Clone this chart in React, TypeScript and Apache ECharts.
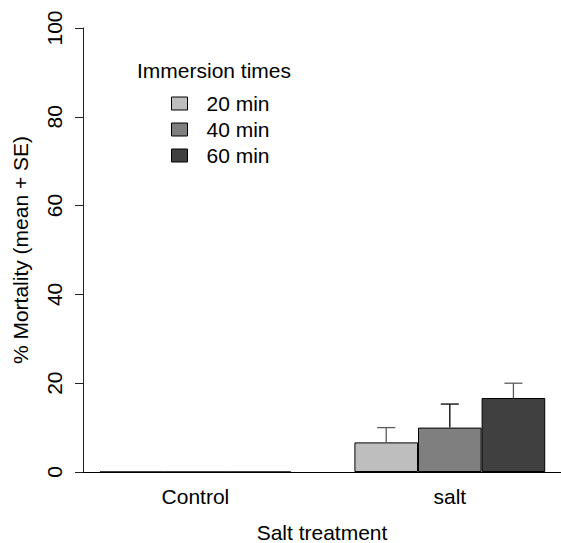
import React, { useEffect, useRef } from "react";
import * as echarts from "echarts";

const categories = ["Control", "salt"];
const seriesNames = ["20 min", "40 min", "60 min"];
// mean mortality per series, by category
const means20 = [0, 6.67];
const means40 = [0, 10];
const means60 = [0, 16.67];
// standard error per series, by category
const se20 = [0, 3.33];
const se40 = [0, 5.3];
const se60 = [0, 3.33];
const yTicks = [0, 20, 40, 60, 80, 100];

const FONT = "'Liberation Sans', Arial, sans-serif";
const barColors = ["#bebebe", "#7f7f7f", "#404040"];
const errColors = ["#5a5a5a", "#000000", "#5a5a5a"];

export default function App() {
  const ref = useRef<HTMLDivElement>(null);
  useEffect(() => {
    if (!ref.current) return;
    const chart = echarts.init(ref.current, undefined, { renderer: "svg" });
    const means = [means20, means40, means60];
    const ses = [se20, se40, se60];
    // barplot unit layout: each group of 3 bars preceded by 1 unit of space
    const xPos = (g: number, s: number) => g * 4 + 1.5 + s;
    const centers = categories.map((_, g) => xPos(g, 1));

    const barSeries = seriesNames.map((name, s) => ({
      name,
      type: "bar",
      barWidth: 63.6,
      barGap: "-100%",
      itemStyle: { color: barColors[s], borderColor: "#000", borderWidth: 1 },
      data: categories.map((_, g) => [xPos(g, s), means[s][g]]),
      z: 2,
    }));

    const errData: number[][] = [];
    seriesNames.forEach((_, s) =>
      categories.forEach((_, g) => {
        if (ses[s][g] > 0) errData.push([xPos(g, s), means[s][g], ses[s][g], s]);
      })
    );

    const option: any = {
      animation: false,
      title: {
        text: "Immersion times",
        left: 137,
        top: 60,
        padding: 0,
        textStyle: { fontFamily: FONT, fontSize: 21, fontWeight: "normal", color: "#000" },
      },
      legend: {
        orient: "vertical",
        left: 171,
        top: 93,
        padding: 0,
        itemWidth: 16,
        itemHeight: 13,
        itemGap: 5,
        icon: "rect",
        data: seriesNames,
        itemStyle: { borderColor: "#000", borderWidth: 1 },
        textStyle: { fontFamily: FONT, fontSize: 21, color: "#000", padding: [0, 0, 0, 14] },
      },
      grid: { left: 83, right: 0, top: 28, bottom: 71, containLabel: false, outerBoundsMode: "none" },
      xAxis: {
        type: "value",
        min: 0.733,
        max: 8.248,
        name: "Salt treatment",
        nameLocation: "middle",
        nameGap: 50,
        nameTextStyle: { fontFamily: FONT, fontSize: 21, lineHeight: 21, color: "#000" },
        axisLine: { show: true, onZero: false, lineStyle: { color: "#000", width: 1 } },
        axisTick: { show: false },
        splitLine: { show: false },
        axisLabel: {
          customValues: centers,
          fontFamily: FONT,
          fontSize: 21,
          color: "#000",
          margin: 14,
          formatter: (v: number) => {
            const i = centers.findIndex((c) => Math.abs(c - v) < 1e-6);
            return i >= 0 ? categories[i] : "";
          },
        },
      },
      yAxis: {
        type: "value",
        min: yTicks[0],
        max: yTicks[yTicks.length - 1],
        interval: yTicks[1] - yTicks[0],
        name: "% Mortality (mean + SE)",
        nameLocation: "middle",
        nameGap: 52,
        nameRotate: 90,
        nameTextStyle: { fontFamily: FONT, fontSize: 21, color: "#000" },
        axisLine: { show: true, lineStyle: { color: "#222", width: 1 } },
        axisTick: { show: true, length: 8, lineStyle: { color: "#222", width: 1 } },
        splitLine: { show: false },
        axisLabel: {
          rotate: 90,
          fontFamily: FONT,
          fontSize: 21,
          color: "#000",
          margin: 18,
        },
      },
      series: [
        ...barSeries,
        {
          type: "custom",
          z: 3,
          silent: true,
          data: errData,
          renderItem: (params: any, api: any) => {
            const x = api.value(0);
            const m = api.value(1);
            const se = api.value(2);
            const s = api.value(3);
            const p0 = api.coord([x, m]);
            const p1 = api.coord([x, m + se]);
            const style = { stroke: errColors[s], lineWidth: 1.3 };
            return {
              type: "group",
              children: [
                { type: "line", shape: { x1: p0[0], y1: p0[1], x2: p1[0], y2: p1[1] }, style },
                { type: "line", shape: { x1: p1[0] - 9, y1: p1[1], x2: p1[0] + 9, y2: p1[1] }, style },
              ],
            };
          },
        },
      ],
    };
    chart.setOption(option);
    return () => chart.dispose();
  }, []);
  return (
    <div
      ref={ref}
      style={{ position: "fixed", left: 0, top: 0, width: 561, height: 543, background: "#fff" }}
    />
  );
}
